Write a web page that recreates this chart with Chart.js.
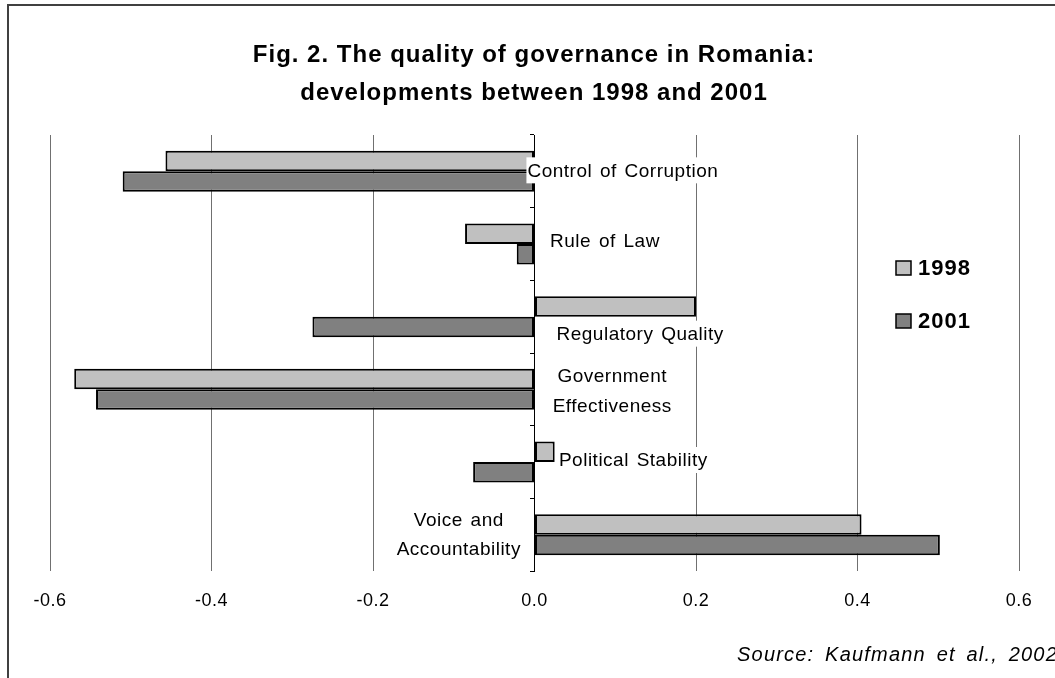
<!DOCTYPE html>
<html>
<head>
<meta charset="utf-8">
<title>Quality of governance in Romania</title>
<script src="https://cdn.jsdelivr.net/npm/chart.js@4.4.1/dist/chart.umd.min.js"></script>
<style>
    html, body { margin: 0; padding: 0; background: #fff; overflow: hidden; }
    #chart { display: block; }
</style>
</head>
<body>
<canvas id="chart" width="1055" height="678"></canvas>
<script>
// ===== DATA =====
const categories = [
    'Control of Corruption',
    'Rule of Law',
    'Regulatory Quality',
    ['Government', 'Effectiveness'],
    'Political Stability',
    ['Voice and', 'Accountability']
];
const seriesNames = ['1998', '2001'];
const values1998 = [-0.457, -0.086, 0.200, -0.570, 0.025, 0.405];
const values2001 = [-0.510, -0.022, -0.275, -0.543, -0.076, 0.502];
const xTicks = [-0.6, -0.4, -0.2, 0.0, 0.2, 0.4, 0.6];

const titleLines = ['Fig. 2. The quality of governance in Romania:', 'developments between 1998 and 2001'];
const sourceNote = 'Source: Kaufmann et al., 2002';

const FONT = '"Liberation Sans", Arial, sans-serif';

// where each category name sits next to its bars (x in data units, dy in px from the group centre)
const labelSpots = [
    { at: -0.010, align: 'left',   dy: [-1] },
    { at: 0.018,  align: 'left',   dy: [-3] },
    { at: 0.026,  align: 'left',   dy: [17] },
    { at: 0.095,  align: 'center', dy: [-14, 16] },
    { at: 0.029,  align: 'left',   dy: [-2] },
    { at: -0.095, align: 'center', dy: [-15, 14] }
];

// ===== PLUGINS =====

// outer frame, title and source line
const framePlugin = {
    id: 'frame',
    beforeDraw(chart) {
        const ctx = chart.ctx;
        ctx.save();
        ctx.fillStyle = '#fff';
        ctx.fillRect(0, 0, chart.width, chart.height);
        ctx.strokeStyle = '#404040';
        ctx.lineWidth = 2;
        ctx.strokeRect(8, 5, chart.width + 100, chart.height + 100);
        ctx.restore();
        // slightly spaced tick labels, like the original
        ctx.letterSpacing = '0.5px';
    },
    afterDraw(chart) {
        const ctx = chart.ctx;
        ctx.save();
        ctx.fillStyle = '#000';
        ctx.textAlign = 'center';
        ctx.textBaseline = 'middle';
        ctx.font = 'bold 24px ' + FONT;
        ctx.letterSpacing = '1px';
        titleLines.forEach((line, i) => {
            ctx.fillText(line, 534, 55 + i * 38);
        });
        ctx.font = 'italic 20px ' + FONT;
        ctx.letterSpacing = '1.2px';
        ctx.wordSpacing = '4px';
        ctx.textAlign = 'right';
        ctx.fillText(sourceNote, 1058, 655);
        ctx.restore();
    }
};

// category names written beside the bars, on a white patch
const barLabelPlugin = {
    id: 'barLabels',
    afterDatasetsDraw(chart) {
        const ctx = chart.ctx;
        const xs = chart.scales.x;
        const ys = chart.scales.y;
        ctx.save();
        ctx.font = '19px ' + FONT;
        ctx.letterSpacing = '0.5px';
        ctx.wordSpacing = '2px';
        ctx.textBaseline = 'middle';
        categories.forEach((cat, i) => {
            const spot = labelSpots[i];
            const lines = Array.isArray(cat) ? cat : [cat];
            const x = xs.getPixelForValue(spot.at);
            const yc = ys.getPixelForValue(i);
            lines.forEach((line, j) => {
                const w = ctx.measureText(line).width;
                const y = yc + spot.dy[j];
                const left = spot.align === 'center' ? x - w / 2 : x;
                ctx.fillStyle = '#fff';
                ctx.fillRect(left, y - 13, w + 1, 26);
                ctx.fillStyle = '#000';
                ctx.textAlign = 'left';
                ctx.fillText(line, left + 1, y + 1);
            });
        });
        ctx.restore();
    }
};

// legend boxes on the right
const legendPlugin = {
    id: 'sideLegend',
    afterDraw(chart) {
        const ctx = chart.ctx;
        ctx.save();
        ctx.font = 'bold 22px ' + FONT;
        ctx.letterSpacing = '1px';
        ctx.textBaseline = 'middle';
        ctx.textAlign = 'left';
        chart.data.datasets.forEach((ds, i) => {
            const y = 268 + i * 53;
            ctx.fillStyle = ds.backgroundColor;
            ctx.fillRect(896, y - 7, 15, 14);
            ctx.strokeStyle = '#000';
            ctx.lineWidth = 1.5;
            ctx.strokeRect(896, y - 7, 15, 14);
            ctx.fillStyle = '#000';
            ctx.fillText(ds.label, 918, y + 1);
        });
        ctx.restore();
    }
};

// ===== CHART =====
const ctx = document.getElementById('chart').getContext('2d');
const chart = new Chart(ctx, {
    type: 'bar',
    data: {
        labels: categories,
        datasets: [{
            label: seriesNames[0],
            data: values1998,
            backgroundColor: '#C0C0C0',
            borderColor: '#000',
            borderWidth: 2,
            borderSkipped: false
        }, {
            label: seriesNames[1],
            data: values2001,
            backgroundColor: '#808080',
            borderColor: '#000',
            borderWidth: 2,
            borderSkipped: false
        }]
    },
    options: {
        indexAxis: 'y',
        responsive: false,
        animation: false,
        devicePixelRatio: 1,
        categoryPercentage: 0.565,
        barPercentage: 1.0,
        layout: {
            padding: { left: 50, right: 36, top: 135, bottom: 47 }
        },
        scales: {
            x: {
                min: -0.6,
                max: 0.6,
                afterBuildTicks: scale => {
                    scale.ticks = xTicks.map(v => ({ value: v }));
                },
                afterFit: scale => {
                    scale.height = 60;
                },
                grid: {
                    color: '#707070',
                    lineWidth: 1,
                    drawTicks: false
                },
                border: { display: false },
                ticks: {
                    color: '#000',
                    padding: 19,
                    font: { family: FONT, size: 18 },
                    callback: v => v.toFixed(1)
                }
            },
            y: {
                position: { x: 0 },
                grid: {
                    drawOnChartArea: false,
                    drawTicks: true,
                    tickLength: 4,
                    color: '#000'
                },
                border: { display: true, color: '#000', width: 1 },
                ticks: { display: false }
            }
        },
        plugins: {
            legend: { display: false },
            title: { display: false },
            tooltip: { enabled: false }
        }
    },
    plugins: [framePlugin, barLabelPlugin, legendPlugin]
});
</script>
</body>
</html>
